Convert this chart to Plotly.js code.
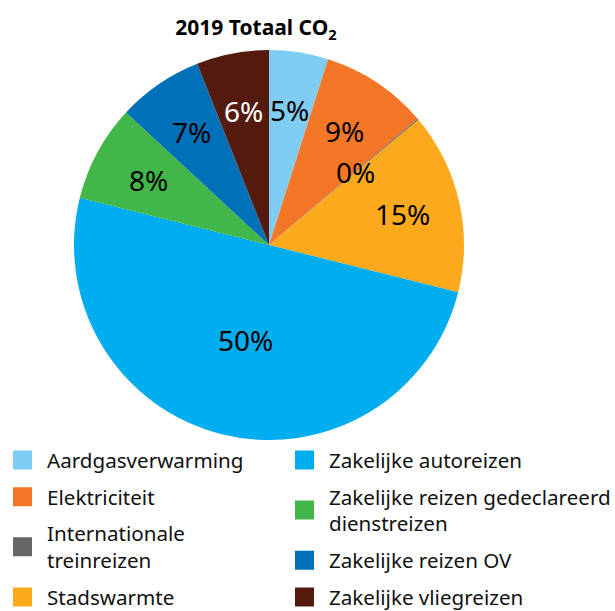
<!DOCTYPE html>
<html>
<head>
<meta charset="utf-8">
<script src="https://cdn.plot.ly/plotly-3.0.1.min.js"></script>
<style>html,body{margin:0;padding:0;background:#fff;}#chart{width:615px;height:611px;}</style>
</head>
<body>
<div id="chart"></div>
<script>
const labels = ['Aardgasverwarming', 'Elektriciteit', 'Internationale treinreizen', 'Stadswarmte',
  'Zakelijke autoreizen', 'Zakelijke reizen gedeclareerd dienstreizen', 'Zakelijke reizen OV', 'Zakelijke vliegreizen'];
const legendNames = ['Aardgasverwarming', 'Elektriciteit', 'Internationale<br>treinreizen', 'Stadswarmte',
  'Zakelijke autoreizen', 'Zakelijke reizen gedeclareerd<br>dienstreizen', 'Zakelijke reizen OV', 'Zakelijke vliegreizen'];
const values = [4.9, 8.9, 0.1, 15.0, 50.0, 8.0, 7.1, 6.0];
const colors = ['#7fcdf2', '#f47727', '#666666', '#fbaa1d', '#00adee', '#42b649', '#0070b9', '#541a0d'];
const textColors = ['#000', '#000', '#000', '#000', '#000', '#000', '#000', '#fff'];
const titleText = '2019 Totaal CO<sub>2</sub>';

const FONT = 'Noto Sans, sans-serif';
const W = 615, H = 611;
// pie placement (pixels)
const CX = 269, CY = 245, R = 195;

const traces = [{
  type: 'pie',
  labels: labels,
  values: values,
  sort: false,
  direction: 'clockwise',
  rotation: 0,
  marker: {colors: colors, line: {width: 0}},
  textinfo: 'none',
  hoverinfo: 'label+percent',
  showlegend: false,
  domain: {x: [(CX - R) / W, (CX + R) / W], y: [1 - (CY + R) / H, 1 - (CY - R) / H]}
}];

legendNames.forEach(function (name, i) {
  traces.push({
    type: 'scatter',
    mode: 'markers',
    x: [null], y: [null],
    name: name,
    legendgroup: 'g' + i,
    legend: i < 4 ? 'legend' : 'legend2',
    marker: {symbol: 'square', size: 16, color: colors[i], line: {color: colors[i], width: 3}},
    showlegend: true,
    hoverinfo: 'skip'
  });
});

// percentage labels, placed on each slice's bisector
const total = values.reduce(function (a, b) { return a + b; }, 0);
const annotations = [];
let cum = 0;
values.forEach(function (v, i) {
  const mid = (cum + v / 2) / total * 2 * Math.PI;
  cum += v;
  const frac = v >= 40 ? 0.5 : (v < 1 ? 0.58 : 0.7);
  const px = CX + frac * R * Math.sin(mid);
  const py = CY - frac * R * Math.cos(mid);
  annotations.push({
    xref: 'paper', yref: 'paper',
    x: px / W, y: 1 - py / H,
    xanchor: 'center', yanchor: 'middle',
    showarrow: false,
    text: Math.round(v / total * 100) + '%',
    font: {family: FONT, size: 28, color: textColors[i]}
  });
});

const legendCommon = {
  font: {family: FONT, size: 20.6, color: '#111'},
  bgcolor: 'rgba(0,0,0,0)',
  borderwidth: 0,
  traceorder: 'grouped',
  tracegroupgap: 7,
  itemwidth: 39,
  xref: 'paper', yref: 'paper',
  xanchor: 'left', yanchor: 'top',
  itemclick: false, itemdoubleclick: false
};

const layout = {
  width: W, height: H,
  margin: {l: 0, r: 0, t: 0, b: 0, autoexpand: false},
  paper_bgcolor: '#fff', plot_bgcolor: '#fff',
  showlegend: true,
  title: {
    text: titleText,
    font: {family: FONT, size: 21, color: '#000', weight: 'bold'},
    x: 256 / W, xanchor: 'center', xref: 'paper',
    y: 1 - 28 / H, yanchor: 'middle', yref: 'container'
  },
  xaxis: {visible: false, domain: [0, 0.01]},
  yaxis: {visible: false, domain: [0, 0.01]},
  legend: Object.assign({}, legendCommon, {x: -2 / W, y: 1 - 440 / H}),
  legend2: Object.assign({}, legendCommon, {x: 280 / W, y: 1 - 440 / H}),
  annotations: annotations
};

Plotly.newPlot('chart', traces, layout, {displayModeBar: false, staticPlot: true});
</script>
</body>
</html>
